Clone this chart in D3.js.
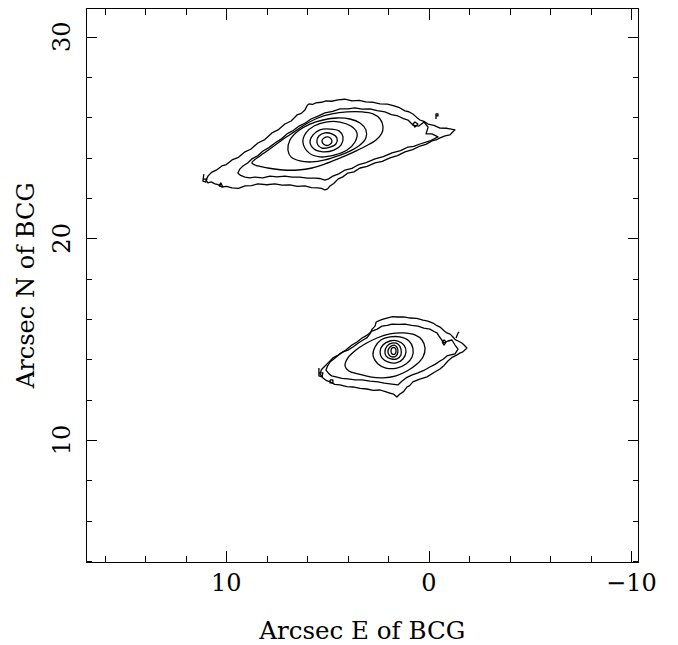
<!DOCTYPE html>
<html><head><meta charset="utf-8">
<script src="https://cdn.jsdelivr.net/npm/d3@7"></script>
<style>body{margin:0;background:#fff} text{font-family:"DejaVu Serif",serif;fill:#000}</style>
</head><body><svg id="c" width="678" height="645"></svg>
<script>
// axis ticks
const xMajorTicks = [10, 0, -10];
const xMinorTicks = [16, 14, 12, 8, 6, 4, 2, -2, -4, -6, -8];
const yMajorTicks = [10, 20, 30];
const yMinorTicks = [4, 6, 8, 12, 14, 16, 18, 22, 24, 26, 28];
const xTitle = "Arcsec E of BCG";
const yTitle = "Arcsec N of BCG";

// upper galaxy contours (arcsec E, arcsec N), outermost first
const upper1 = [[11.01,22.89],[10.90,23.10],[10.71,23.29],[10.50,23.38],[10.22,23.59],[10.00,23.66],[9.72,23.89],[9.40,24.02],[9.08,24.29],[8.80,24.42],[8.44,24.73],[8.10,24.90],[7.75,25.23],[7.45,25.38],[7.11,25.67],[6.80,25.82],[6.51,26.12],[6.30,26.20],[6.12,26.37],[6.00,26.60],[5.92,26.67],[5.75,26.64],[5.58,26.72],[5.30,26.75],[5.08,26.82],[4.80,26.80],[4.49,26.87],[4.15,26.90],[3.80,26.82],[3.45,26.84],[3.11,26.77],[2.75,26.75],[2.41,26.67],[2.05,26.66],[1.72,26.57],[1.45,26.48],[1.18,26.32],[0.99,26.28],[0.79,26.17],[0.60,26.00],[0.44,25.87],[0.25,25.80],[0.04,25.67],[-0.25,25.60],[-0.55,25.47],[-0.90,25.46],[-1.29,25.38],[-1.15,25.25],[-1.04,25.13],[-0.80,25.08],[-0.55,24.98],[-0.35,24.88],[-0.15,24.83],[0.15,24.66],[0.44,24.58],[0.80,24.40],[1.18,24.29],[1.55,24.10],[1.92,23.99],[2.30,23.82],[2.66,23.74],[3.05,23.57],[3.40,23.49],[3.70,23.30],[4.00,23.24],[4.25,23.05],[4.49,22.94],[4.70,22.72],[4.88,22.60],[5.00,22.45],[5.13,22.40],[5.30,22.48],[5.48,22.50],[5.80,22.52],[6.12,22.60],[6.50,22.58],[6.86,22.65],[7.25,22.64],[7.60,22.70],[8.00,22.66],[8.44,22.70],[8.75,22.62],[9.08,22.60],[9.40,22.48],[9.72,22.50],[10.00,22.58],[10.22,22.55],[10.40,22.66],[10.56,22.70],[10.75,22.80],[10.91,22.75]];
const upper2 = [[9.43,23.24],[9.35,23.42],[9.18,23.59],[8.95,23.74],[8.74,23.94],[8.45,24.10],[8.19,24.33],[7.90,24.50],[7.60,24.73],[7.30,24.92],[7.01,25.18],[6.70,25.35],[6.41,25.57],[6.10,25.72],[5.82,25.92],[5.50,26.05],[5.13,26.22],[4.75,26.30],[4.39,26.42],[4.00,26.42],[3.65,26.47],[3.30,26.41],[2.91,26.42],[2.55,26.33],[2.17,26.27],[1.85,26.14],[1.53,26.07],[1.25,25.94],[1.03,25.87],[0.79,25.62],[0.49,25.57],[0.24,25.77],[0.04,25.52],[0.14,25.18],[-0.15,25.18],[-0.45,25.03],[-0.05,24.83],[0.44,24.68],[0.75,24.56],[1.03,24.53],[1.40,24.35],[1.82,24.24],[2.25,24.05],[2.66,23.94],[3.10,23.76],[3.50,23.64],[3.80,23.47],[4.14,23.39],[4.45,23.20],[4.74,23.09],[4.95,22.95],[5.13,22.89],[5.40,22.97],[5.62,22.99],[6.00,22.99],[6.37,23.04],[6.75,23.04],[7.11,23.09],[7.50,23.05],[7.85,23.09],[8.20,23.00],[8.59,23.04],[8.85,23.00],[9.08,23.04],[9.30,23.12]];
const upper3 = [[8.74,23.74],[8.34,24.09],[7.85,24.43],[7.25,24.88],[6.66,25.28],[6.07,25.67],[5.48,25.97],[4.79,26.17],[4.04,26.27],[3.30,26.27],[2.76,26.17],[2.41,25.92],[2.27,25.57],[2.32,25.23],[2.61,24.88],[3.11,24.58],[3.80,24.24],[4.49,23.94],[5.13,23.69],[5.77,23.49],[6.46,23.39],[7.20,23.39],[7.95,23.49],[8.44,23.59]];
const upper4 = [[6.96,24.38],[6.86,24.88],[6.46,25.33],[5.87,25.67],[5.23,25.87],[4.54,25.97],[3.90,25.92],[3.40,25.72],[3.11,25.38],[3.11,24.98],[3.40,24.63],[3.90,24.33],[4.49,24.09],[5.13,23.89],[5.77,23.79],[6.37,23.84],[6.81,24.04]];
const upper5 = [[6.22,24.78],[6.07,25.23],[5.67,25.57],[5.08,25.77],[4.39,25.77],[3.85,25.57],[3.55,25.23],[3.65,24.78],[4.04,24.38],[4.64,24.14],[5.38,24.04],[5.92,24.24]];
const upper6 = [[5.87,24.78],[5.72,25.13],[5.38,25.38],[4.88,25.42],[4.44,25.33],[4.24,25.03],[4.34,24.63],[4.69,24.38],[5.23,24.29],[5.67,24.43]];
const upper7 = [[5.53,24.83],[5.43,25.08],[5.13,25.23],[4.79,25.18],[4.54,24.98],[4.59,24.68],[4.88,24.53],[5.28,24.48],[5.48,24.63]];
const upper8 = [[5.28,24.83],[5.18,24.98],[4.98,25.03],[4.83,24.93],[4.79,24.78],[4.93,24.63],[5.13,24.63]];
const upperBits = [
  [[11.11,23.19],[11.16,22.84],[11.01,22.79],[10.96,22.94],[11.13,22.94]],
  [[10.37,22.60],[10.17,22.55],[10.27,22.75],[10.37,22.60]],
  [[0.79,25.67],[0.69,25.77],[0.54,25.67],[0.69,25.52],[0.79,25.67]],
  [[-0.35,25.92],[-0.35,26.17],[-0.45,26.17],[-0.45,26.07],[-0.35,26.07]]
];

// lower galaxy contours, outermost first
const lower1 = [[5.38,13.28],[5.30,13.50],[5.13,13.67],[4.95,13.85],[4.74,14.07],[4.50,14.20],[4.24,14.37],[4.00,14.46],[3.75,14.61],[3.50,14.80],[3.25,14.96],[3.05,15.08],[2.91,15.26],[2.80,15.50],[2.66,15.65],[2.60,15.85],[2.51,15.90],[2.30,15.98],[2.07,16.05],[1.80,16.12],[1.58,16.10],[1.25,16.11],[0.93,16.05],[0.60,16.03],[0.29,15.95],[0.05,15.90],[-0.20,15.80],[-0.40,15.67],[-0.55,15.60],[-0.75,15.42],[-0.89,15.31],[-1.05,15.25],[-1.19,15.11],[-1.30,14.98],[-1.44,14.91],[-1.63,14.81],[-1.75,14.70],[-1.88,14.56],[-1.68,14.37],[-1.55,14.32],[-1.39,14.22],[-1.15,14.10],[-0.94,13.92],[-0.75,13.70],[-0.55,13.52],[-0.25,13.35],[0.09,13.13],[0.45,13.02],[0.79,12.88],[0.95,12.70],[1.08,12.63],[1.25,12.40],[1.43,12.28],[1.58,12.13],[1.75,12.28],[1.92,12.33],[2.15,12.40],[2.41,12.48],[2.75,12.46],[3.06,12.53],[3.40,12.56],[3.75,12.63],[4.05,12.65],[4.39,12.73],[4.65,12.76],[4.88,12.88],[5.05,12.94],[5.23,13.08]];
const lower2 = [[5.08,13.47],[5.00,13.68],[4.88,13.87],[4.65,14.05],[4.39,14.27],[4.10,14.46],[3.80,14.71],[3.55,14.86],[3.30,15.06],[3.05,15.20],[2.81,15.40],[2.55,15.50],[2.32,15.65],[2.05,15.68],[1.82,15.75],[1.50,15.73],[1.18,15.75],[0.85,15.68],[0.54,15.65],[0.25,15.55],[-0.05,15.50],[-0.25,15.38],[-0.40,15.31],[-0.50,15.15],[-0.60,15.01],[-0.75,14.81],[-0.94,14.91],[-1.14,14.96],[-1.29,14.71],[-1.44,14.51],[-1.29,14.27],[-0.89,14.17],[-0.72,14.02],[-0.55,13.92],[-0.30,13.75],[-0.05,13.62],[0.25,13.45],[0.54,13.33],[0.85,13.22],[1.13,13.08],[1.35,12.90],[1.53,12.73],[1.92,12.78],[2.20,12.82],[2.51,12.88],[2.90,12.92],[3.30,12.98],[3.65,12.98],[4.00,13.03],[4.30,13.06],[4.59,13.13],[4.80,13.18],[4.93,13.28]];
const lower3 = [[4.14,13.67],[4.00,14.07],[3.60,14.46],[3.16,14.76],[2.56,15.06],[1.92,15.26],[1.28,15.31],[0.69,15.21],[0.34,14.96],[0.19,14.56],[0.29,14.12],[0.59,13.77],[1.08,13.42],[1.62,13.18],[2.27,13.08],[2.91,13.13],[3.50,13.28],[3.95,13.42]];
const lower4 = [[2.76,14.22],[2.66,14.61],[2.37,14.96],[1.92,15.11],[1.43,15.11],[0.98,14.91],[0.79,14.56],[0.83,14.12],[1.13,13.77],[1.58,13.57],[2.12,13.57],[2.51,13.77]];
const lower5 = [[2.41,14.37],[2.27,14.71],[1.92,14.91],[1.53,14.91],[1.23,14.71],[1.13,14.37],[1.28,14.02],[1.62,13.82],[2.02,13.87],[2.32,14.07]];
const lower6 = [[2.17,14.37],[2.07,14.66],[1.82,14.81],[1.53,14.76],[1.38,14.51],[1.38,14.22],[1.58,14.02],[1.87,14.02],[2.12,14.17]];
const lower7 = [[2.02,14.41],[1.92,14.61],[1.72,14.71],[1.58,14.61],[1.53,14.37],[1.62,14.17],[1.82,14.12],[1.97,14.22]];
const lower8 = [[1.87,14.41],[1.82,14.56],[1.67,14.56],[1.62,14.41],[1.67,14.27],[1.82,14.27]];
const lowerBits = [
  [[5.43,13.57],[5.43,13.18],[5.28,13.13],[5.23,13.33],[5.43,13.33]],
  [[4.88,12.98],[4.74,12.98],[4.74,12.83],[4.88,12.83],[4.88,12.98]],
  [[-0.65,14.86],[-0.75,14.96],[-0.85,14.86],[-0.75,14.71],[-0.65,14.86]],
  [[-1.34,15.06],[-1.44,15.31],[-1.49,15.36]]
];

const svg = d3.select("#c");
const L = 86, R = 638.5, T = 8.5, B = 562;
const x = d3.scaleLinear().domain([16.93, -10.35]).range([L, R]);
const y = d3.scaleLinear().domain([3.95, 31.40]).range([B, T]);

// ticks on all four sides, pointing inward
function addTicks(axisFn, scale, vals, size, tx, ty) {
  svg.append("g").attr("transform", `translate(${tx},${ty})`)
    .call(axisFn(scale).tickValues(vals).tickSize(size).tickSizeOuter(0).tickFormat(""))
    .call(g => g.select(".domain").remove())
    .call(g => g.selectAll("line").attr("stroke", "#000").attr("stroke-width", 1).attr("shape-rendering", "crispEdges"));
}
addTicks(d3.axisBottom, x, xMajorTicks, -11, 0, B);
addTicks(d3.axisBottom, x, xMinorTicks, -6, 0, B);
addTicks(d3.axisTop, x, xMajorTicks, -11, 0, T);
addTicks(d3.axisTop, x, xMinorTicks, -6, 0, T);
addTicks(d3.axisLeft, y, yMajorTicks, -11, L, 0);
addTicks(d3.axisLeft, y, yMinorTicks, -6, L, 0);
addTicks(d3.axisRight, y, yMajorTicks, -11, R, 0);
addTicks(d3.axisRight, y, yMinorTicks, -6, R, 0);

svg.append("rect").attr("x", L).attr("y", T).attr("width", R - L).attr("height", B - T)
  .attr("fill", "none").attr("stroke", "#000").attr("stroke-width", 1).attr("shape-rendering", "crispEdges");

// tick labels
const fmt = d3.format("d");
svg.append("g").selectAll("text").data(xMajorTicks).join("text")
  .attr("x", d => x(d)).attr("y", 591).attr("text-anchor", "middle")
  .attr("font-size", 24).text(d => fmt(d));
svg.append("g").selectAll("text").data(yMajorTicks).join("text")
  .attr("transform", d => `translate(70,${y(d)}) rotate(-90)`).attr("text-anchor", "middle")
  .attr("font-size", 24).text(d => fmt(d));

// axis titles
svg.append("text").attr("x", (L + R) / 2).attr("y", 639).attr("text-anchor", "middle")
  .attr("font-size", 24).attr("textLength", 206).attr("lengthAdjust", "spacingAndGlyphs").text(xTitle);
svg.append("text").attr("transform", `translate(33.5,${(T + B) / 2}) rotate(-90)`).attr("text-anchor", "middle")
  .attr("font-size", 24).attr("textLength", 206).attr("lengthAdjust", "spacingAndGlyphs").text(yTitle);

// contours
const jagged = d3.line().x(d => x(d[0])).y(d => y(d[1])).curve(d3.curveLinearClosed);
const smooth = d3.line().x(d => x(d[0])).y(d => y(d[1])).curve(d3.curveCatmullRomClosed.alpha(0.5));
const open = d3.line().x(d => x(d[0])).y(d => y(d[1]));
const cg = svg.append("g").attr("fill", "none").attr("stroke", "#000").attr("stroke-width", 1.3).attr("stroke-linejoin", "round");
[upper1, upper2, lower1, lower2].forEach(c => cg.append("path").attr("d", jagged(c)));
[upper3, upper4, upper5, upper6, upper7, upper8,
 lower3, lower4, lower5, lower6, lower7, lower8].forEach(c => cg.append("path").attr("d", smooth(c)));
[...upperBits, ...lowerBits].forEach(c => cg.append("path").attr("d", open(c)));
</script></body></html>
